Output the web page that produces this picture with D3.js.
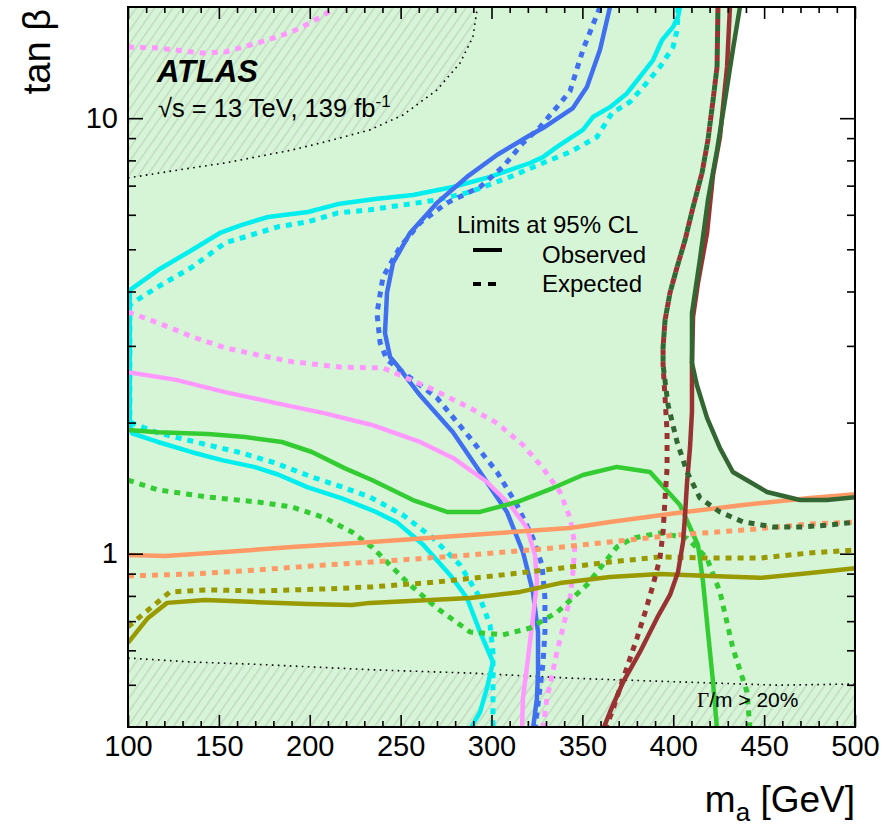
<!DOCTYPE html>
<html>
<head>
<meta charset="utf-8">
<script src="https://cdn.jsdelivr.net/npm/d3@7"></script>
<style>
  body { margin: 0; background: #fff; }
  text { font-family: "Liberation Sans", Arial, Helvetica, sans-serif; fill: #000; }
</style>
</head>
<body>
<svg id="chart" width="885" height="826"></svg>
<script>
// ---- Exclusion contours in the (m_a [GeV], tan beta) plane ----
const cyanObs = [[403.7,18],[402.6,17.1],[399.9,16.2],[393.8,15.1],[388.9,13.6],[383.4,12.7],[374.5,11.4],[365.2,10.6],[355.8,10.06],[350.3,9.4],[336.0,8.59],[328.3,8.14],[321.2,7.89],[299.2,7.33],[278.8,6.95],[256.8,6.66],[235.9,6.52],[215.5,6.35],[199.0,6.09],[177.0,5.93],[162.7,5.69],[150.6,5.45],[135.2,4.98],[116.5,4.48],[101,4.03],[101,2.01],[102.2,1.89],[116.5,1.805],[135.2,1.71],[151.7,1.64],[169.9,1.58],[182.5,1.52],[199.0,1.42],[217.7,1.34],[235.9,1.25],[248.0,1.18],[262.3,1.05],[277.2,0.894],[286.5,0.791],[293.7,0.661],[300.8,0.564],[297.5,0.491],[293.7,0.433],[288.2,0.395]];
const cyanExp = [[402.6,18],[402.6,17.44],[402.1,15.94],[399.9,14.57],[392.7,13.11],[383.4,11.79],[376.2,10.9],[366.3,10.28],[358.0,9.05],[343.2,8.36],[328.3,7.89],[310.2,7.33],[288.2,6.77],[270.0,6.49],[251.3,6.32],[233.1,6.16],[215.5,6.06],[199.0,5.78],[182.5,5.63],[153.4,5.17],[135.2,4.55],[116.5,4.10],[101,3.73],[101,2.03],[102.2,1.995],[116.5,1.893],[144.0,1.777],[162.7,1.703],[180.9,1.616],[201.2,1.50],[217.7,1.423],[233.1,1.349],[251.3,1.227],[267.8,1.086],[282.7,0.942],[293.7,0.791],[299.2,0.686],[300.8,0.595],[300.8,0.507],[300.8,0.426],[300.8,0.395]];
const blueObs = [[365.2,18],[359.7,14.35],[352.5,11.79],[344.8,10.55],[328.3,9.49],[319.5,9.05],[303.0,8.23],[286.5,7.33],[270.0,6.39],[255.2,5.45],[245.8,4.65],[242.5,3.97],[241.4,3.21],[244.2,2.83],[248.0,2.71],[260.7,2.31],[278.8,1.90],[293.7,1.54],[308.5,1.247],[317.3,1.009],[322.8,0.817],[325.6,0.661],[325.6,0.535],[325.0,0.466],[322.8,0.395]];
const blueExp = [[359.7,18],[350.3,14.35],[343.2,11.53],[336.0,10.61],[326.7,9.54],[317.3,8.77],[306.3,7.73],[293.7,6.95],[275.5,6.39],[260.7,5.75],[249.7,5.06],[240.3,4.32],[237.0,3.57],[238.7,3.05],[242.5,2.79],[251.3,2.61],[270.0,2.28],[288.2,1.844],[303.0,1.54],[314.0,1.294],[322.8,1.086],[327.8,0.942],[329.4,0.791],[329.4,0.661],[328.3,0.557],[326.7,0.491],[323.9,0.395]];
const pinkObs = [[100,2.61],[125.9,2.51],[153.4,2.35],[180.9,2.22],[208.4,2.10],[234.2,1.975],[260.7,1.805],[278.8,1.659],[297.5,1.461],[310.2,1.294],[319.5,1.146],[323.9,0.993],[325.0,0.861],[322.8,0.712],[320.1,0.576],[317.3,0.466],[316.8,0.395]];
const pinkExpHigh = [[100,14.57],[116.5,14.49],[140.7,14.11],[153.4,14.19],[171.5,14.88],[190.2,15.78],[201.2,16.64],[212.2,17.72],[214.5,18.3]];
const pinkExp = [[100,3.59],[116.5,3.39],[135.2,3.15],[153.4,2.97],[171.5,2.86],[190.2,2.76],[217.7,2.68],[240.3,2.67],[266.2,2.40],[288.2,2.16],[303.0,1.995],[317.3,1.777],[328.3,1.573],[337.7,1.386],[343.2,1.208],[345.9,1.047],[344.8,0.906],[343.2,0.791],[339.3,0.675],[336.0,0.595],[333.3,0.526],[330.5,0.466],[328.3,0.395]];
const greenObs = [[100,1.923],[116.5,1.90],[144.0,1.884],[164.4,1.854],[184.7,1.805],[201.2,1.712],[219.4,1.570],[234.2,1.476],[256.8,1.328],[275.5,1.247],[293.7,1.247],[314.0,1.314],[333.8,1.415],[350.3,1.516],[369.0,1.582],[387.2,1.540],[403.7,1.294],[413.6,1.047],[416.4,0.861],[419.1,0.661],[421.9,0.507],[424.1,0.395]];
const greenExp = [[100,1.476],[116.5,1.401],[144.0,1.349],[171.5,1.314],[190.2,1.280],[208.4,1.208],[223.2,1.121],[234.2,1.036],[244.1,0.942],[255.2,0.848],[270.0,0.750],[288.2,0.661],[306.3,0.651],[321.2,0.675],[336.0,0.733],[352.5,0.848],[369.0,1.036],[377.9,1.086],[392.7,1.116],[407.5,1.086],[418.5,0.977],[425.7,0.817],[432.8,0.607],[440.6,0.481],[442.2,0.395]];
const orangeObs = [[100,0.993],[120.4,0.988],[153.4,1.009],[190.2,1.036],[234.2,1.064],[288.2,1.104],[343.2,1.146],[365.2,1.183],[402.1,1.240],[438.4,1.294],[475.3,1.342],[501,1.371]];
const orangeExp = [[100,0.889],[135.2,0.898],[171.5,0.918],[208.4,0.942],[234.2,0.957],[288.2,0.993],[333.8,1.031],[365.2,1.064],[402.1,1.104],[438.4,1.133],[475.3,1.170],[501,1.183]];
const oliveObs = [[100,0.624],[111.0,0.712],[121.5,0.771],[142.4,0.783],[171.5,0.774],[199.0,0.766],[223.2,0.762],[233.1,0.771],[288.2,0.791],[315.7,0.817],[337.7,0.856],[365.2,0.884],[392.7,0.898],[420.2,0.889],[447.7,0.880],[475.3,0.903],[501,0.927]];
const oliveExp = [[100,0.679],[111.0,0.742],[123.1,0.817],[144.0,0.826],[171.5,0.821],[208.4,0.830],[234.2,0.839],[270.0,0.861],[306.3,0.894],[343.2,0.932],[365.2,0.957],[392.7,0.983],[420.2,0.977],[447.7,0.977],[475.3,1.004],[501,1.020]];
const redObs = [[431.2,18],[429.6,13.11],[425.7,9.05],[421.9,7.41],[418.6,5.45],[413.6,4.18],[410.9,3.50],[410.3,2.74],[410.3,2.12],[409.2,1.748],[407.6,1.461],[406.5,1.227],[405.4,1.064],[402.6,0.906],[398.2,0.804],[391.1,0.712],[381.7,0.595],[372.4,0.507],[365.2,0.433],[361.4,0.395]];
const redExp = [[424.6,18],[424.1,13.11],[421.9,11.01],[419.1,8.91],[415.8,7.48],[410.9,6.25],[406.5,5.25],[402.1,4.55],[398.2,3.97],[395.5,3.44],[394.4,2.98],[394.4,2.71],[395.5,2.28],[396.6,1.90],[396.6,1.570],[395.5,1.342],[394.4,1.121],[392.7,0.977],[388.9,0.848],[384.5,0.733],[380.1,0.641],[375.1,0.557],[370.7,0.491],[366.3,0.433],[362.5,0.395]];
const darkGreenObs = [[436.7,18],[432.8,14.35],[428.5,11.01],[424.1,8.45],[419.1,6.49],[414.7,4.74],[410.3,3.57],[410.3,2.74],[413.0,2.44],[418.6,2.05],[425.7,1.748],[432.8,1.540],[451.6,1.386],[469.7,1.328],[484.6,1.328],[501,1.349]];
const darkGreenExp = [[424.6,18],[424.1,13.11],[421.9,11.01],[419.1,8.91],[415.8,7.48],[410.9,6.25],[406.5,5.25],[402.1,4.55],[398.2,3.97],[395.5,3.44],[394.4,2.98],[394.4,2.71],[397.1,2.20],[402.1,1.805],[407.6,1.540],[414.7,1.342],[425.7,1.247],[438.4,1.183],[454.9,1.152],[471.4,1.152],[486.2,1.164],[501,1.183]];

// Boundaries of the Gamma/m > 20% regions
const widthBoundUpper = [[100,7.29],[135.2,7.69],[153.4,7.89],[190.2,8.45],[208.4,8.82],[233.1,9.40],[251.3,10.17],[270.0,11.61],[282.7,13.39],[289.8,15.37],[292.0,17.72],[292.6,18]];
const widthBoundLower = [[100,0.576],[135.2,0.564],[171.5,0.557],[235.9,0.541],[288.2,0.532],[343.2,0.518],[370.7,0.513],[420.2,0.505],[457.1,0.499],[500,0.502]];

// Axis ticks
const xMajorTicks = [100,150,200,250,300,350,400,450,500];
const xMinorTicks = d3.range(110, 500, 10).filter(v => v % 50 !== 0);
const yMajorTicks = [1,10];
const yMinorTicks = [0.5,0.6,0.7,0.8,0.9,2,3,4,5,6,7,8,9];

// ---- Drawing ----
const plot = { left: 128, top: 7, right: 855, bottom: 727 };
const x = d3.scaleLinear().domain([100, 500]).range([plot.left, plot.right]);
const y = d3.scaleLog().domain([0.4, 18]).range([plot.bottom, plot.top]);
const [xMin, xMax] = x.domain();
const [yMin, yMax] = y.domain();

const svg = d3.select("#chart");
const defs = svg.append("defs");
defs.append("clipPath").attr("id", "plotClip")
  .append("rect")
  .attr("x", plot.left).attr("y", plot.top)
  .attr("width", plot.right - plot.left).attr("height", plot.bottom - plot.top);

const hatch = defs.append("pattern")
  .attr("id", "hatch")
  .attr("patternUnits", "userSpaceOnUse")
  .attr("width", 7.5).attr("height", 10)
  .attr("patternTransform", "rotate(35)");
hatch.append("line")
  .attr("x1", 3.75).attr("y1", 0).attr("x2", 3.75).attr("y2", 10)
  .attr("stroke", "#b3bdb3").attr("stroke-width", 0.8);

const line = d3.line().x(d => x(d[0])).y(d => y(d[1]));
const area = svg.append("g").attr("clip-path", "url(#plotClip)");

// Excluded region: everything outside the dark-green observed contour
const excluded = [[xMin, yMax]].concat(darkGreenObs, [[xMax, yMin], [xMin, yMin]]);
area.append("path")
  .attr("d", line(excluded) + "Z")
  .attr("fill", "#d6f5d6");

// Hatched Gamma/m > 20% regions
area.append("path")
  .attr("d", line(widthBoundUpper.concat([[xMin, yMax]])) + "Z")
  .attr("fill", "url(#hatch)");
area.append("path")
  .attr("d", line(widthBoundLower.concat([[xMax, yMin], [xMin, yMin]])) + "Z")
  .attr("fill", "url(#hatch)");

[widthBoundUpper, widthBoundLower].forEach(b => {
  area.append("path")
    .attr("d", line(b))
    .attr("fill", "none")
    .attr("stroke", "#000")
    .attr("stroke-width", 1.6)
    .attr("stroke-dasharray", "1.6,4.4");
});

// Region label
const gl = svg.append("text").attr("x", 697).attr("y", 707).style("font-size", "21px");
gl.append("tspan").style("font-family", "'Liberation Serif','Times New Roman',serif").text("Γ");
gl.append("tspan").text("/m > 20%");

// Contours
const contours = [
  { data: cyanExp,      color: "#00eeee", dash: "6,6" },
  { data: cyanObs,      color: "#00eeee" },
  { data: blueExp,      color: "#4070f0", dash: "6,6" },
  { data: blueObs,      color: "#4070f0" },
  { data: pinkExpHigh,  color: "#ff99ff", dash: "6,6" },
  { data: pinkExp,      color: "#ff99ff", dash: "6,6" },
  { data: pinkObs,      color: "#ff99ff" },
  { data: greenExp,     color: "#33cc33", dash: "6,6" },
  { data: greenObs,     color: "#33cc33" },
  { data: orangeExp,    color: "#ff9966", dash: "6,6" },
  { data: orangeObs,    color: "#ff9966" },
  { data: oliveExp,     color: "#999900", dash: "6,6" },
  { data: oliveObs,     color: "#999900" },
  { data: redExp,       color: "#993333", dash: "6,6" },
  { data: redObs,       color: "#993333" },
  { data: darkGreenExp, color: "#336633", dash: "6,6", offset: 6 },
  { data: darkGreenObs, color: "#336633" }
];
contours.forEach(c => {
  const p = area.append("path")
    .attr("d", line(c.data))
    .attr("fill", "none")
    .attr("stroke", c.color)
    .attr("stroke-width", c.dash ? 5 : 4.5)
    .attr("stroke-linejoin", "round");
  if (c.dash) p.attr("stroke-dasharray", c.dash).attr("stroke-dashoffset", c.offset || 0);
});

// Axes with inward ticks on all four sides
function styleAxis(g) {
  g.select(".domain").remove();
  g.selectAll(".tick line").attr("stroke", "#000").attr("stroke-width", 1.6);
}
svg.append("g").attr("transform", `translate(0,${plot.bottom})`)
  .call(d3.axisBottom(x).tickValues(xMinorTicks).tickSize(-6).tickFormat(""))
  .call(styleAxis);
svg.append("g").attr("transform", `translate(0,${plot.bottom})`)
  .call(d3.axisBottom(x).tickValues(xMajorTicks).tickSize(-12).tickPadding(8).tickFormat(d3.format("d")))
  .call(styleAxis)
  .selectAll("text").style("font-size", "29px").attr("fill", "#000");
svg.append("g").attr("transform", `translate(0,${plot.top})`)
  .call(d3.axisTop(x).tickValues(xMinorTicks).tickSize(-6).tickFormat(""))
  .call(styleAxis);
svg.append("g").attr("transform", `translate(0,${plot.top})`)
  .call(d3.axisTop(x).tickValues(xMajorTicks).tickSize(-12).tickFormat(""))
  .call(styleAxis);

svg.append("g").attr("transform", `translate(${plot.left},0)`)
  .call(d3.axisLeft(y).tickValues(yMinorTicks).tickSize(-8).tickFormat(""))
  .call(styleAxis);
svg.append("g").attr("transform", `translate(${plot.left},0)`)
  .call(d3.axisLeft(y).tickValues(yMajorTicks).tickSize(-15).tickPadding(10).tickFormat(d3.format("d")))
  .call(styleAxis)
  .selectAll("text").style("font-size", "29px").attr("fill", "#000");
svg.append("g").attr("transform", `translate(${plot.right},0)`)
  .call(d3.axisRight(y).tickValues(yMinorTicks).tickSize(-8).tickFormat(""))
  .call(styleAxis);
svg.append("g").attr("transform", `translate(${plot.right},0)`)
  .call(d3.axisRight(y).tickValues(yMajorTicks).tickSize(-15).tickFormat(""))
  .call(styleAxis);

// Frame
svg.append("rect")
  .attr("x", plot.left).attr("y", plot.top)
  .attr("width", plot.right - plot.left).attr("height", plot.bottom - plot.top)
  .attr("fill", "none").attr("stroke", "#000").attr("stroke-width", 2);

// Axis titles
const xt = svg.append("text").attr("x", plot.right).attr("y", 812)
  .attr("text-anchor", "end").style("font-size", "37px");
xt.append("tspan").text("m");
xt.append("tspan").attr("dy", 9).style("font-size", "26px").text("a");
xt.append("tspan").attr("dy", -9).text(" [GeV]");

svg.append("text")
  .attr("transform", "translate(50,9) rotate(-90)")
  .attr("text-anchor", "end")
  .style("font-size", "38px")
  .text("tan β");

// Experiment labels
svg.append("text").attr("x", 157).attr("y", 82)
  .style("font-size", "31px").style("font-weight", "bold").style("font-style", "italic")
  .text("ATLAS");
const lumi = svg.append("text").attr("x", 158).attr("y", 117).style("font-size", "25.5px");
lumi.append("tspan").text("√s = 13 TeV, 139 fb");
lumi.append("tspan").attr("dy", -10).style("font-size", "17px").text("-1");

// Legend
svg.append("text").attr("x", 457).attr("y", 233).style("font-size", "24px").text("Limits at 95% CL");
svg.append("line").attr("x1", 473).attr("x2", 502).attr("y1", 250).attr("y2", 250)
  .attr("stroke", "#000").attr("stroke-width", 4);
svg.append("text").attr("x", 542).attr("y", 263).style("font-size", "24px").text("Observed");
svg.append("line").attr("x1", 473).attr("x2", 502).attr("y1", 284).attr("y2", 284)
  .attr("stroke", "#000").attr("stroke-width", 4).attr("stroke-dasharray", "8,7");
svg.append("text").attr("x", 542).attr("y", 292).style("font-size", "24px").text("Expected");
</script>
</body>
</html>
